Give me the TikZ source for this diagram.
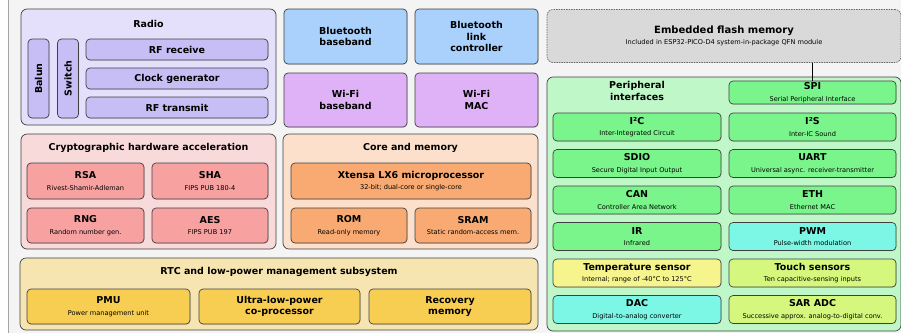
\documentclass[tikz,border=0pt]{standalone}
\usepackage{fontspec}
\setmainfont{DejaVu Sans}
\usetikzlibrary{shadows}

\definecolor{edge}{HTML}{404040}
\definecolor{page}{HTML}{F4F4F4}
\definecolor{radioout}{HTML}{E4E0FC}
\definecolor{radioin}{HTML}{C6BEF4}
\definecolor{btblue}{HTML}{A9D1FC}
\definecolor{wifi}{HTML}{DFB1F7}
\definecolor{cryptout}{HTML}{F9DADA}
\definecolor{cryptin}{HTML}{F7A1A1}
\definecolor{coreout}{HTML}{FCE0CC}
\definecolor{corein}{HTML}{F8AA72}
\definecolor{rtcout}{HTML}{F7E5B1}
\definecolor{rtcin}{HTML}{F8CE52}
\definecolor{flashgray}{HTML}{D9D9D9}
\definecolor{periout}{HTML}{C0F7C8}
\definecolor{periin}{HTML}{7AF58B}
\definecolor{cyanin}{HTML}{7CF7E6}
\definecolor{tempin}{HTML}{F6F48C}
\definecolor{touchin}{HTML}{D5F77D}

\newcommand{\ttl}{\bfseries\fontsize{9.5}{11.5}\selectfont}
\newcommand{\subt}{\mdseries\fontsize{6.6}{7.8}\selectfont}

\begin{document}
\begin{tikzpicture}[x=1pt, y=-1pt,
    box/.style={draw=edge, line width=0.7pt, rounded corners=4pt, align=center, inner sep=0pt, font=\ttl,
      drop shadow={shadow xshift=0.5pt, shadow yshift=-0.7pt, opacity=0.3}},
    grp/.style={draw=edge, line width=0.7pt, rounded corners=6pt, inner sep=0pt},
    head/.style={font=\ttl, align=center, inner sep=0pt},
  ]
  \useasboundingbox (0,0) rectangle (901,333);
  \fill[page] (8,0) rectangle (901,333);
  \draw[gray!70, line width=0.8pt] (8,0) -- (8,333);

  % Radio
  \node[grp, fill=radioout, minimum width=255, minimum height=116] (radio) at (148.5,67) {};
  \node[head] (radiot) at (148.5,24) {Radio};
  \node[box, fill=radioin, rotate=90, minimum width=79, minimum height=21] (balun) at (38.5,78.5) {Balun};
  \node[box, fill=radioin, rotate=90, minimum width=79, minimum height=21] (switch) at (68,78.5) {Switch};
  \node[box, fill=radioin, minimum width=182, minimum height=21] (rfrx) at (177,49.5) {RF receive};
  \node[box, fill=radioin, minimum width=182, minimum height=21] (clkgen) at (177,78.5) {Clock generator};
  \node[box, fill=radioin, minimum width=182, minimum height=21] (rftx) at (177,107.5) {RF transmit};

  % Bluetooth and Wi-Fi
  \node[box, fill=btblue, minimum width=123, minimum height=55] (btbb) at (345.5,36.5) {Bluetooth\\baseband};
  \node[box, fill=btblue, minimum width=123, minimum height=55] (btlc) at (476.5,36.5) {Bluetooth\\link\\controller};
  \node[box, fill=wifi, minimum width=123, minimum height=54] (wifibb) at (345.5,100) {Wi-Fi\\baseband};
  \node[box, fill=wifi, minimum width=123, minimum height=54] (wifimac) at (476.5,100) {Wi-Fi\\MAC};

  % Cryptographic hardware acceleration
  \node[grp, fill=cryptout, minimum width=255, minimum height=115] (crypto) at (148.5,191.5) {};
  \node[head] (cryptot) at (148.5,148) {Cryptographic hardware acceleration};
  \node[box, fill=cryptin, minimum width=117, minimum height=36] (rsa) at (85.5,181) {RSA\\{\subt Rivest-Shamir-Adleman}};
  \node[box, fill=cryptin, minimum width=116, minimum height=36] (sha) at (210,181) {SHA\\{\subt FIPS PUB 180-4}};
  \node[box, fill=cryptin, minimum width=117, minimum height=35] (rng) at (85.5,225.5) {RNG\\{\subt Random number gen.}};
  \node[box, fill=cryptin, minimum width=116, minimum height=35] (aes) at (210,225.5) {AES\\{\subt FIPS PUB 197}};

  % Core and memory
  \node[grp, fill=coreout, minimum width=255, minimum height=115] (core) at (410.5,191.5) {};
  \node[head] (coret) at (410.5,148) {Core and memory};
  \node[box, fill=corein, minimum width=240, minimum height=36] (xtensa) at (411,181) {Xtensa LX6 microprocessor\\{\subt 32-bit; dual-core or single-core}};
  \node[box, fill=corein, minimum width=116, minimum height=35] (rom) at (349,225.5) {ROM\\{\subt Read-only memory}};
  \node[box, fill=corein, minimum width=116, minimum height=35] (sram) at (473,225.5) {SRAM\\{\subt Static random-access mem.}};

  % RTC and low-power management
  \node[grp, fill=rtcout, minimum width=518, minimum height=72] (rtc) at (279,294) {};
  \node[head] (rtct) at (279,272) {RTC and low-power management subsystem};
  \node[box, fill=rtcin, minimum width=163, minimum height=35] (pmu) at (108.5,306.5) {PMU\\{\subt Power management unit}};
  \node[box, fill=rtcin, minimum width=161, minimum height=35] (ulp) at (279.5,306.5) {Ultra-low-power\\co-processor};
  \node[box, fill=rtcin, minimum width=162, minimum height=35] (recmem) at (450,306.5) {Recovery\\memory};

  % Embedded flash
  \node[grp, fill=flashgray, draw=edge!80, dash pattern=on 1.5pt off 1pt, minimum width=354, minimum height=53,
    align=center, font=\bfseries\fontsize{10}{11}\selectfont] (flash) at (724,36)
    {Embedded flash memory\\{\subt Included in ESP32-PICO-D4 system-in-package QFN module}};

  % Peripheral interfaces
  \node[grp, fill=periout, minimum width=354, minimum height=254] (peri) at (724,204) {};
  \node[head] (perit) at (637,91) {Peripheral\\interfaces};
  \node[box, fill=periin, minimum width=167, minimum height=23] (spi) at (812.5,92.5) {SPI\\{\subt Serial Peripheral Interface}};
  \node[box, fill=periin, minimum width=168, minimum height=28] (i2c) at (637,127) {I²C\\{\subt Inter-Integrated Circuit}};
  \node[box, fill=periin, minimum width=167, minimum height=28] (i2s) at (812.5,127) {I²S\\{\subt Inter-IC Sound}};
  \node[box, fill=periin, minimum width=168, minimum height=28] (sdio) at (637,163.5) {SDIO\\{\subt Secure Digital Input Output}};
  \node[box, fill=periin, minimum width=167, minimum height=28] (uart) at (812.5,163.5) {UART\\{\subt Universal async. receiver-transmitter}};
  \node[box, fill=periin, minimum width=168, minimum height=28] (can) at (637,200) {CAN\\{\subt Controller Area Network}};
  \node[box, fill=periin, minimum width=167, minimum height=28] (eth) at (812.5,200) {ETH\\{\subt Ethernet MAC}};
  \node[box, fill=periin, minimum width=168, minimum height=28] (ir) at (637,236.5) {IR\\{\subt Infrared}};
  \node[box, fill=cyanin, minimum width=167, minimum height=28] (pwm) at (812.5,236.5) {PWM\\{\subt Pulse-width modulation}};
  \node[box, fill=tempin, minimum width=168, minimum height=28] (temp) at (637,273) {Temperature sensor\\{\subt Internal; range of -40°C to 125°C}};
  \node[box, fill=touchin, minimum width=167, minimum height=28] (touch) at (812.5,273) {Touch sensors\\{\subt Ten capacitive-sensing inputs}};
  \node[box, fill=cyanin, minimum width=168, minimum height=28] (dac) at (637,309.5) {DAC\\{\subt Digital-to-analog converter}};
  \node[box, fill=touchin, minimum width=167, minimum height=28] (adc) at (812.5,309.5) {SAR ADC\\{\subt Successive approx. analog-to-digital conv.}};

  \draw[black, line width=1pt] (spi.north) -- (spi.north |- flash.south);
\end{tikzpicture}
\end{document}
